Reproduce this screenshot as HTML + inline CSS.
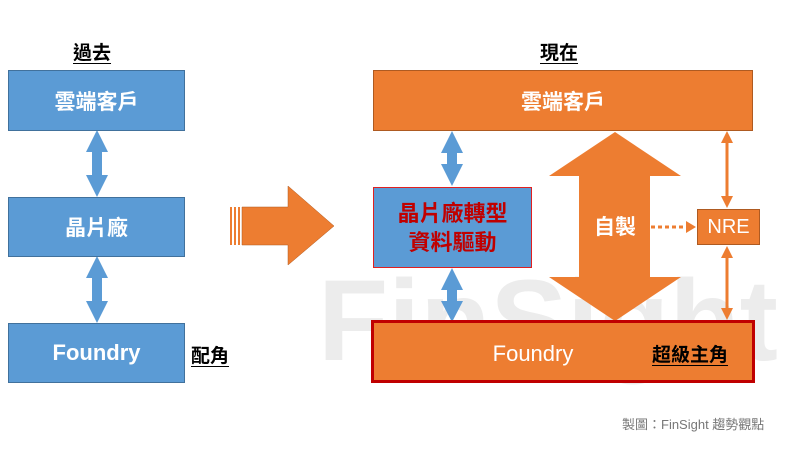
<!DOCTYPE html>
<html><head><meta charset="utf-8"><style>
body{margin:0;width:786px;height:449px;background:#fff;position:relative;overflow:hidden;font-family:"Liberation Sans","Noto Sans CJK TC",sans-serif}
.b{position:absolute;display:flex;align-items:center;justify-content:center;color:#fff;font-weight:bold;box-sizing:border-box}
.blue{background:#5b9bd5;border:1px solid #41719c}
.or{background:#ed7d31;border:1px solid #ae5a21}
.t{position:absolute;font-weight:bold;color:#000;text-decoration:underline;text-underline-offset:4px}
</style></head><body>
<svg width="786" height="449" style="position:absolute;left:0;top:0">
<text x="318" y="360" font-family="Liberation Sans" font-weight="bold" font-size="115" fill="#ececec">FinSight</text>
<polygon points="97,130 108,152 102,152 102,175 108,175 97,197 86,175 92,175 92,152 86,152" fill="#5b9bd5"/>
<polygon points="97,256 108,278 102,278 102,301 108,301 97,323 86,301 92,301 92,278 86,278" fill="#5b9bd5"/>
<rect x="230" y="207" width="2" height="38" fill="#ed7d31"/>
<rect x="234" y="207" width="2" height="38" fill="#ed7d31"/>
<rect x="238" y="207" width="2" height="38" fill="#ed7d31"/>
<polygon points="242,207 288,207 288,186 334,226 288,265 288,245 242,245" fill="#ed7d31" stroke="#ae5a21" stroke-width="0.5"/>
<polygon points="452,131 463,153 457,153 457,164 463,164 452,186 441,164 447,164 447,153 441,153" fill="#5b9bd5"/>
<polygon points="452,268 463,290 457,290 457,301 463,301 452,322 441,301 447,301 447,290 441,290" fill="#5b9bd5"/>
<polygon points="615,132 681,176 650,176 650,277 681,277 615,321 549,277 579,277 579,176 549,176" fill="#ed7d31"/>
<line x1="727" y1="140" x2="727" y2="198" stroke="#ed7d31" stroke-width="3"/>
<polygon points="727,131 733,143 721,143" fill="#ed7d31"/>
<polygon points="727,208 733,196 721,196" fill="#ed7d31"/>
<line x1="727" y1="256" x2="727" y2="311" stroke="#ed7d31" stroke-width="3"/>
<polygon points="727,246 733,258 721,258" fill="#ed7d31"/>
<polygon points="727,320 733,308 721,308" fill="#ed7d31"/>
<line x1="651" y1="227" x2="685" y2="227" stroke="#ed7d31" stroke-width="3" stroke-dasharray="4,3"/>
<polygon points="696,227 686,221 686,233" fill="#ed7d31"/>
</svg>
<div class="t" style="left:73px;top:38px;font-size:19px">過去</div>
<div class="t" style="left:540px;top:38px;font-size:19px">現在</div>
<div class="b blue" style="left:8px;top:70px;width:177px;height:61px;font-size:21px">雲端客戶</div>
<div class="b blue" style="left:8px;top:197px;width:177px;height:60px;font-size:21px">晶片廠</div>
<div class="b blue" style="left:8px;top:323px;width:177px;height:60px;font-size:22px">Foundry</div>
<div class="t" style="left:191px;top:341px;font-size:19px">配角</div>
<div class="b or" style="left:373px;top:70px;width:380px;height:61px;font-size:21px">雲端客戶</div>
<div class="b" style="left:373px;top:187px;width:159px;height:81px;background:#5b9bd5;border:1px solid #e02020;color:#c00000;font-size:22px;line-height:29px;text-align:center">晶片廠轉型<br>資料驅動</div>
<div class="b" style="left:583px;top:210px;width:64px;height:32px;font-size:21px">自製</div>
<div class="b or" style="left:697px;top:209px;width:63px;height:36px;font-size:20px;font-weight:normal">NRE</div>
<div class="b" style="left:371px;top:320px;width:384px;height:63px;background:#ed7d31;border:3px solid #c00000;font-size:22px;font-weight:normal;padding-right:60px;padding-top:4px">Foundry</div>
<div class="t" style="left:652px;top:340px;font-size:19px">超級主角</div>
<div style="position:absolute;left:622px;top:414px;font-size:13px;color:#777">製圖：FinSight 趨勢觀點</div>
</body></html>
